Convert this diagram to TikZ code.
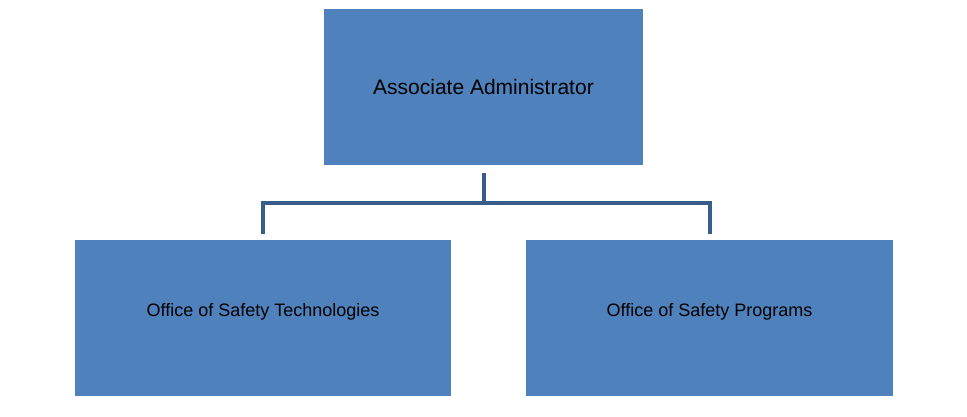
\documentclass[tikz,border=0pt]{standalone}
\usepackage{fontspec}
\setmainfont{Liberation Sans}
\begin{document}
\begin{tikzpicture}[x=1pt,y=-1pt,
  orgbox/.style={draw=none,fill={rgb,255:red,79;green,129;blue,189},inner sep=0pt},
  conn/.style={draw={rgb,255:red,56;green,93;blue,138},line width=4.5pt}]
\useasboundingbox (0,0) rectangle (967,417);
\fill[orgbox] (324,9) rectangle (643,165);
\node (top) at (483.5,87) {\fontsize{21}{25}\selectfont Associate Administrator};
\fill[orgbox] (75,240) rectangle (451,396);
\node (left) at (263,312) {\fontsize{18}{22}\selectfont Office of Safety Technologies};
\fill[orgbox] (526,240) rectangle (893,396);
\node (right) at (709.5,312) {\fontsize{18}{22}\selectfont Office of Safety Programs};
\coordinate (ts) at (484,173);
\coordinate (tm) at (484,203);
\coordinate (lm) at (263,203);
\coordinate (le) at (263,234);
\coordinate (rm) at (710,203);
\coordinate (re) at (710,234);
\draw[conn] (ts) -- (tm);
\draw[conn] (le) -- (lm) -- (rm) -- (re);
\end{tikzpicture}
\end{document}
